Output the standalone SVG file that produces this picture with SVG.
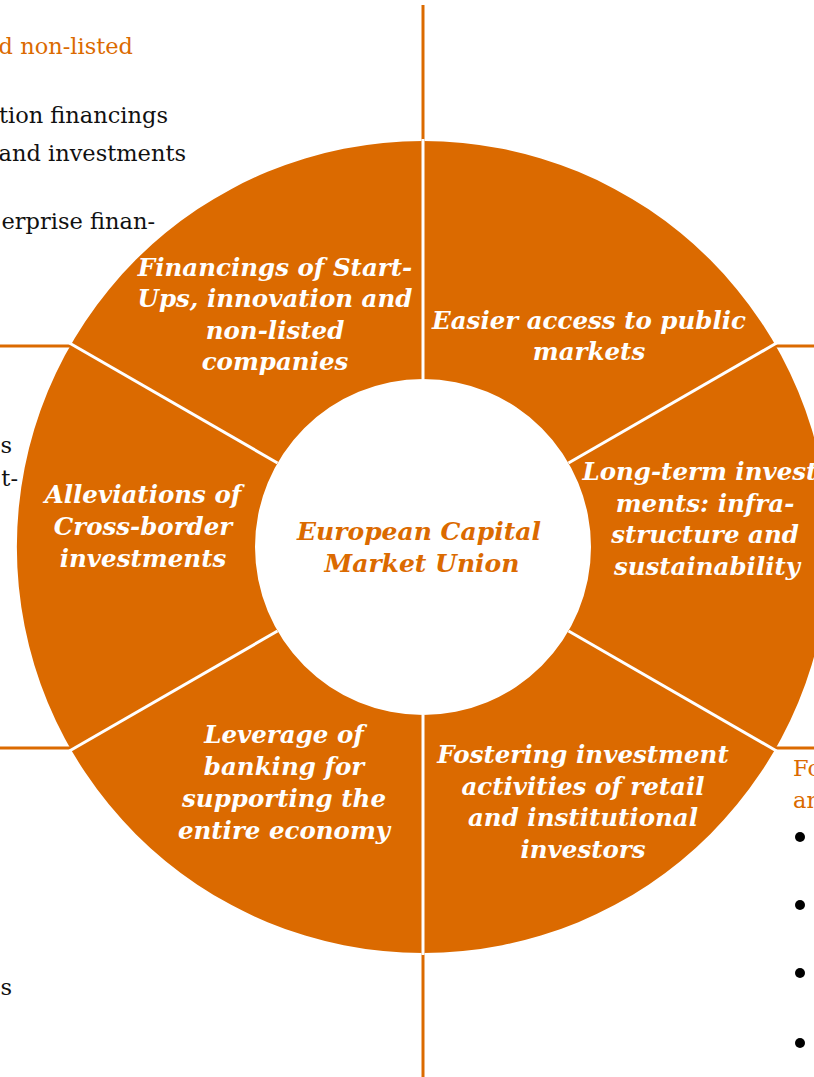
<svg xmlns="http://www.w3.org/2000/svg" width="814" height="1077" viewBox="0 0 814 1077">
<style>
.seg{fill:#DB6A00;}
.div{stroke:#fff;stroke-width:3;fill:none;}
.axis{stroke:#DB6A00;stroke-width:3;fill:none;}
.lbl{font-family:"DejaVu Serif","Liberation Serif",serif;font-weight:bold;font-style:italic;font-size:24.5px;fill:#fff;text-anchor:middle;}
.ctr{font-family:"DejaVu Serif","Liberation Serif",serif;font-weight:bold;font-style:italic;font-size:25px;fill:#DB6A00;text-anchor:middle;}
.side{font-family:"DejaVu Serif","Liberation Serif",serif;font-size:22.5px;fill:#111;}
.sideo{font-family:"DejaVu Serif","Liberation Serif",serif;font-size:22.5px;fill:#DB6A00;}
</style>
<rect width="814" height="1077" fill="#fff"/>
<g id="axes">
<line class="axis" x1="423" y1="5" x2="423" y2="142"/>
<line class="axis" x1="423" y1="952" x2="423" y2="1077"/>
<line class="axis" x1="0" y1="346" x2="71" y2="346"/>
<line class="axis" x1="0" y1="748" x2="71" y2="748"/>
<line class="axis" x1="775" y1="346" x2="814" y2="346"/>
<line class="axis" x1="775" y1="748" x2="814" y2="748"/>
</g>
<g id="side-texts">
<text class="sideo" x="133" y="54" text-anchor="end">d non-listed</text>
<text class="side" x="168" y="123" text-anchor="end">tion financings</text>
<text class="side" x="186" y="161" text-anchor="end">and investments</text>
<text class="side" x="155" y="229" text-anchor="end">erprise finan-</text>
<text class="side" x="12" y="453" text-anchor="end">s</text>
<text class="side" x="18" y="486" text-anchor="end">t-</text>
<text class="side" x="12" y="995" text-anchor="end">s</text>
<text class="sideo" x="793" y="776">Fo</text>
<text class="sideo" x="793" y="808">an</text>
<circle cx="800" cy="837" r="5" fill="#000"/>
<circle cx="800" cy="905" r="5" fill="#000"/>
<circle cx="800" cy="973" r="5" fill="#000"/>
<circle cx="800" cy="1043" r="5" fill="#000"/>
</g>
<g id="donut">
<path class="seg" fill-rule="evenodd" d="M423,141 A406,406 0 1,1 423,953 A406,406 0 1,1 423,141 Z M423,379 A168,168 0 1,0 423,715 A168,168 0 1,0 423,379 Z"/>
</g>
<g id="connectors">
<line class="div" x1="423" y1="379" x2="423" y2="139"/>
<line class="div" x1="568.5" y1="463" x2="776.6" y2="343"/>
<line class="div" x1="568.5" y1="631" x2="776.6" y2="751"/>
<line class="div" x1="423" y1="715" x2="423" y2="955"/>
<line class="div" x1="277.5" y1="631" x2="69.4" y2="751"/>
<line class="div" x1="277.5" y1="463" x2="69.4" y2="343"/>
</g>
<g id="n-startups">
<text class="lbl" x="275" y="276">Financings of Start-</text>
<text class="lbl" x="275" y="307">Ups, innovation and</text>
<text class="lbl" x="275" y="339">non-listed</text>
<text class="lbl" x="275" y="370">companies</text>
</g>
<g id="n-public">
<text class="lbl" x="589" y="329">Easier access to public</text>
<text class="lbl" x="589" y="360">markets</text>
</g>
<g id="n-longterm">
<text class="lbl" x="705" y="480">Long-term invest-</text>
<text class="lbl" x="705" y="512">ments: infra-</text>
<text class="lbl" x="705" y="543">structure and</text>
<text class="lbl" x="707" y="575">sustainability</text>
</g>
<g id="n-fostering">
<text class="lbl" x="583" y="763">Fostering investment</text>
<text class="lbl" x="583" y="795">activities of retail</text>
<text class="lbl" x="583" y="826">and institutional</text>
<text class="lbl" x="583" y="858">investors</text>
</g>
<g id="n-banking">
<text class="lbl" x="284" y="743">Leverage of</text>
<text class="lbl" x="284" y="775">banking for</text>
<text class="lbl" x="284" y="807">supporting the</text>
<text class="lbl" x="284" y="839">entire economy</text>
</g>
<g id="n-crossborder">
<text class="lbl" x="143" y="503">Alleviations of</text>
<text class="lbl" x="143" y="535">Cross-border</text>
<text class="lbl" x="143" y="567">investments</text>
</g>
<g id="n-center">
<text class="ctr" x="419" y="540">European Capital</text>
<text class="ctr" x="422" y="572">Market Union</text>
</g>
</svg>
